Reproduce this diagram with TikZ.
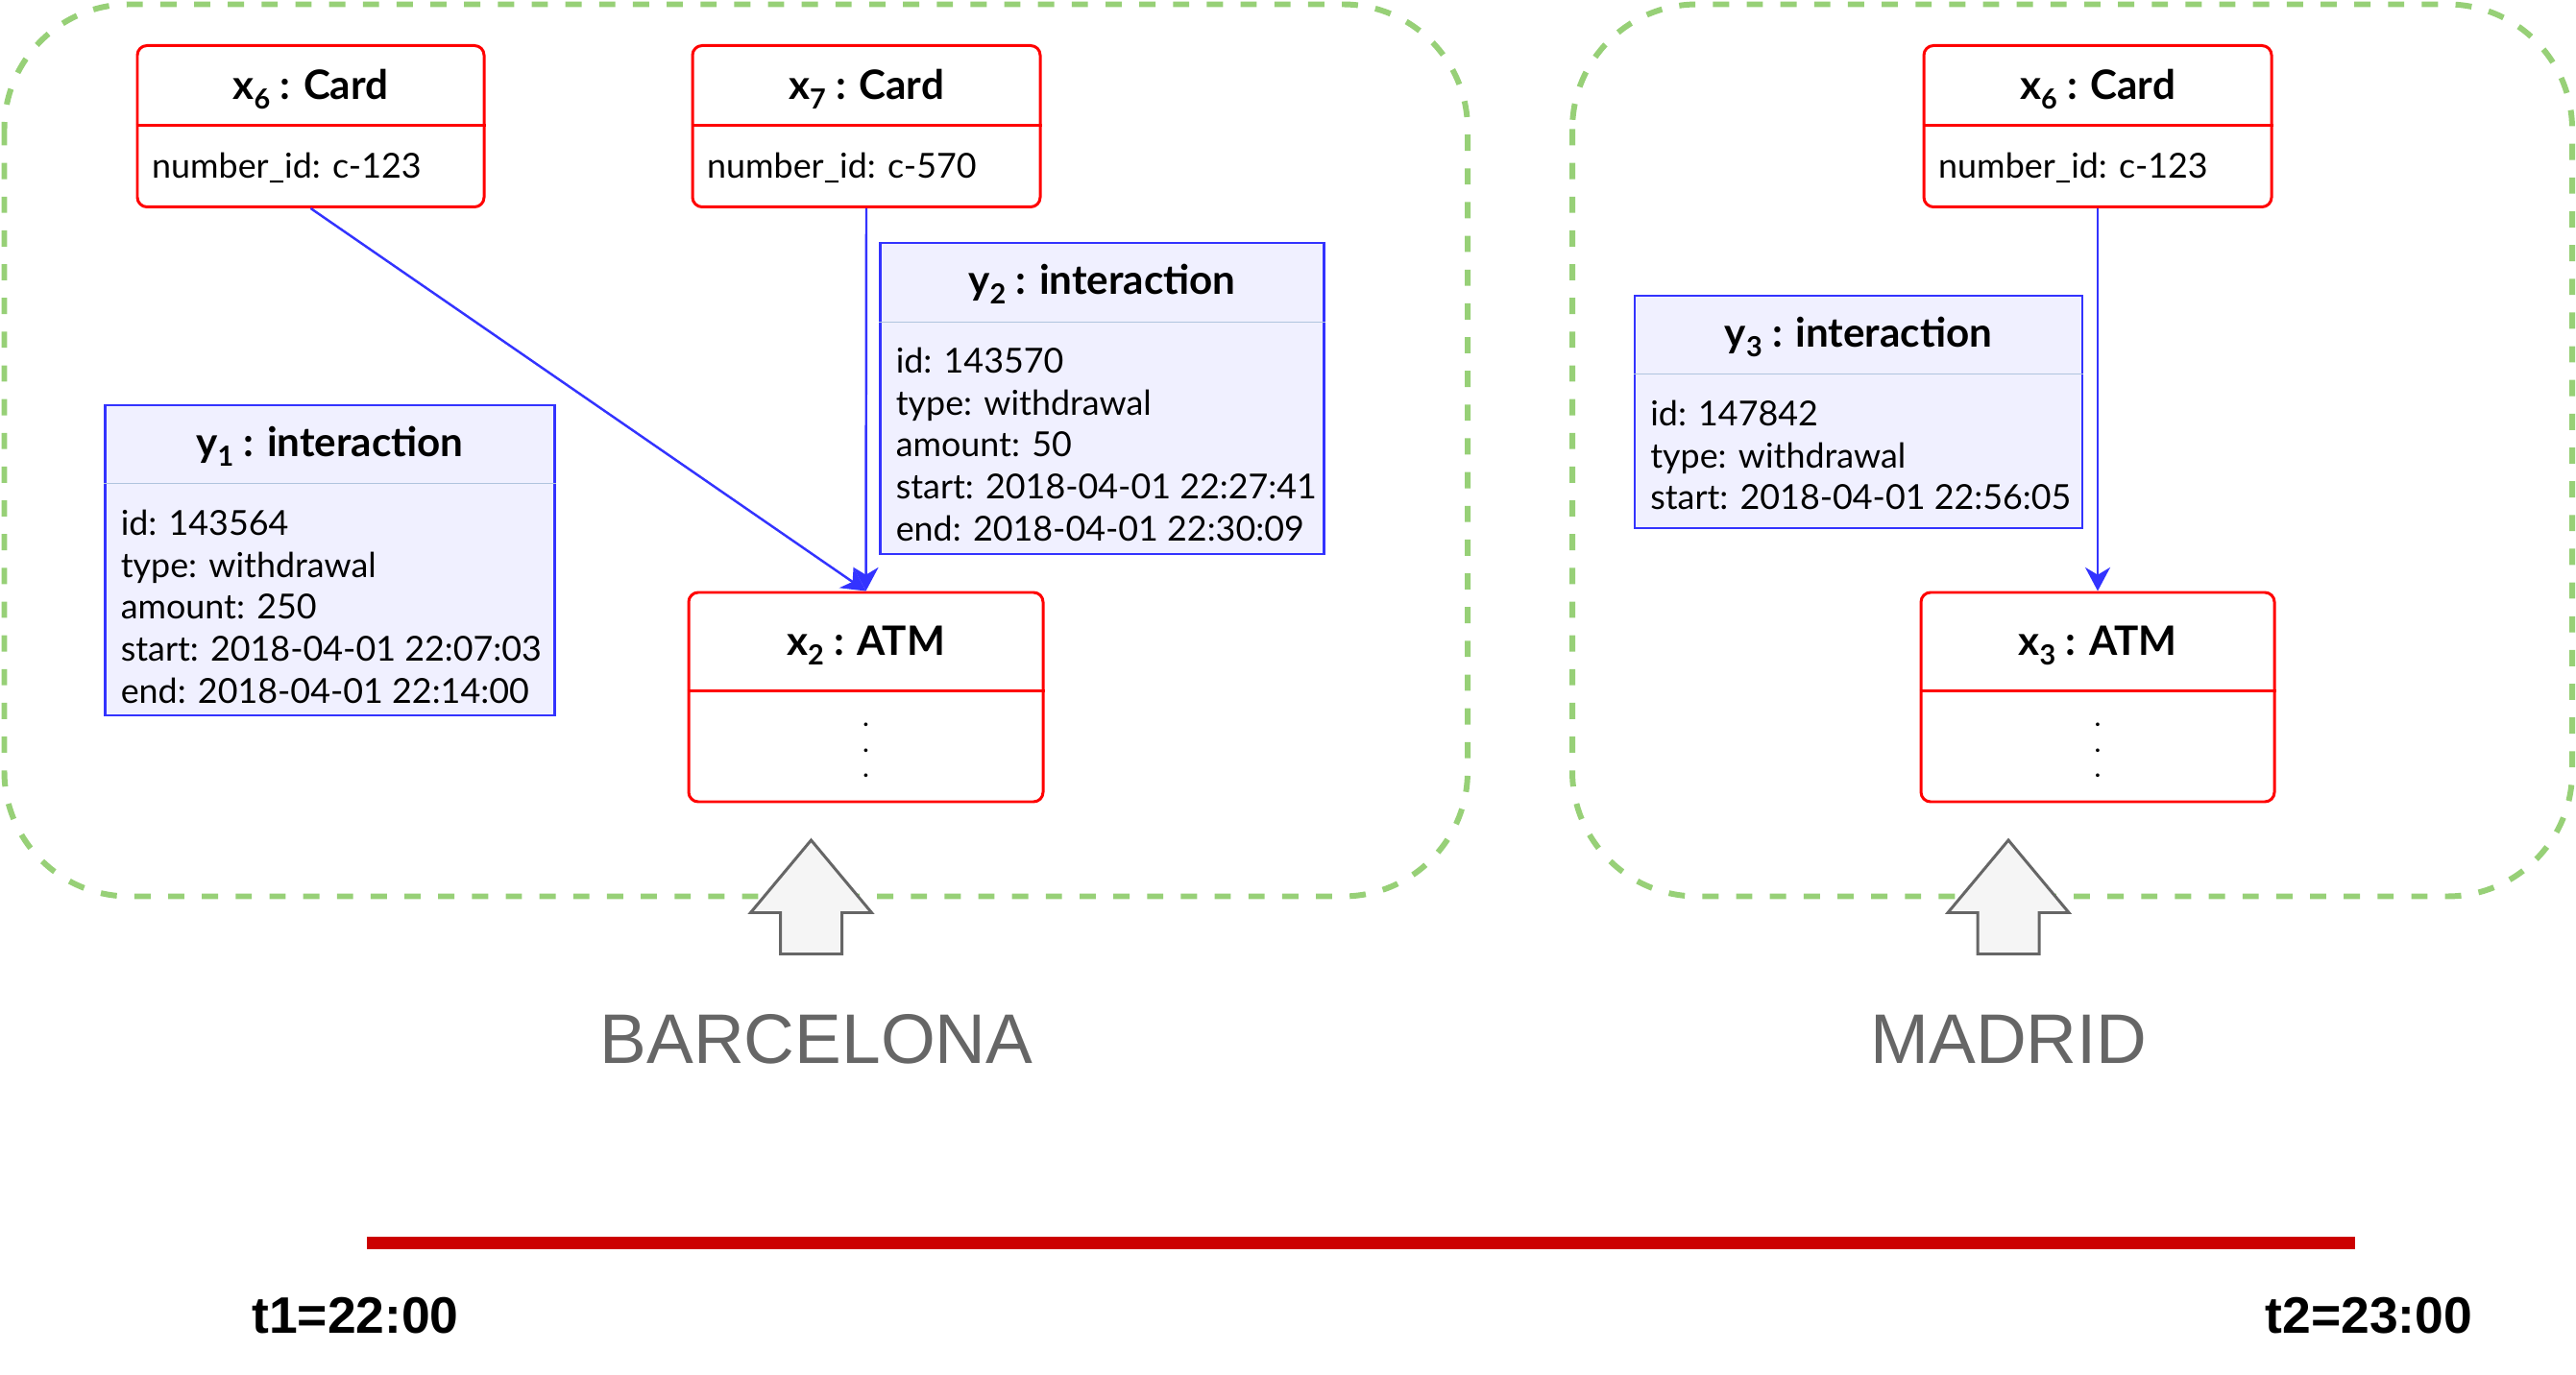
\documentclass[tikz,border=0pt]{standalone}
\usepackage{fontspec}
\setmainfont{Lato}
\newfontfamily\cityfont{Liberation Sans}
\usetikzlibrary{arrows.meta,calc}
\definecolor{cardred}{RGB}{255,0,0}
\definecolor{linkblue}{RGB}{51,51,255}
\definecolor{interfill}{RGB}{240,240,255}
\definecolor{intersep}{RGB}{176,196,222}
\definecolor{zonegreen}{RGB}{151,208,119}
\definecolor{arrowgray}{RGB}{102,102,102}
\definecolor{arrowfill}{RGB}{245,245,245}
\definecolor{timered}{RGB}{204,0,0}
\newcommand{\objsub}[1]{\raisebox{-3pt}{\fontsize{8.2}{9}\selectfont #1}}

\begin{document}
\begin{tikzpicture}[
    zone/.style={draw=zonegreen, line width=1.7pt, dash pattern=on 4.8pt off 5.2pt, rounded corners=1.3cm},
    redbox/.style={draw=cardred, line width=0.85pt, rounded corners=0.1cm, fill=white, inner sep=0pt},
    interbox/.style={draw=linkblue, line width=0.8pt, fill=interfill, inner sep=0pt},
    redsep/.style={draw=cardred, line width=0.85pt},
    bluesep/.style={draw=intersep, line width=0.35pt},
    title/.style={font=\fontsize{12}{14}\selectfont\bfseries, anchor=base, inner sep=0pt},
    attrs/.style={font=\fontsize{10.2}{12.4}\selectfont, align=left, anchor=north west, inner sep=0pt},
    dots/.style={font=\fontsize{7}{7.5}\selectfont\bfseries, align=center, anchor=north, inner sep=0pt},
    link/.style={draw=linkblue, line width=0.7pt, -{Stealth[length=7pt,width=7.4pt,inset=2.2pt]}},
    city/.style={font=\cityfont\fontsize{20.8}{25}\selectfont, text=arrowgray, anchor=base, inner sep=0pt},
    timelabel/.style={font=\cityfont\fontsize{15.2}{18}\selectfont\bfseries, anchor=base, inner sep=0pt},
    bigarrow/.style={draw=arrowgray, fill=arrowfill, line width=0.85pt}
]
    \useasboundingbox (0,0) rectangle (26.82,14.31);

    % Barcelona and Madrid zones
    \draw[zone] (0.045,14.265) rectangle (15.28,4.975);
    \draw[zone] (16.37,14.265) rectangle (26.78,4.975);

    \foreach \cx in {8.445,20.91} {
        \draw[bigarrow] (\cx,5.56) -- ++(0.63,-0.755) -- ++(-0.31,0) -- ++(0,-0.43)
            -- ++(-0.64,0) -- ++(0,0.43) -- ++(-0.31,0) -- cycle;
    }
    \node[city] (barcelona) at (8.50,3.24) {BARCELONA};
    \node[city] (madrid) at (20.915,3.24) {MADRID};

    % Cards
    \node[redbox, minimum width=3.61cm, minimum height=1.68cm] (card6) at (3.235,12.995) {};
    \draw[redsep] ([yshift=-0.845cm]card6.north west) -- ([yshift=-0.845cm]card6.north east);
    \node[title] (card6title) at ([yshift=-0.57cm]card6.north) {x\objsub{6} : Card};
    \node[attrs] (card6attr) at ([shift={(0.16,-1.125)}]card6.north west) {number\_id: c-123};

    \node[redbox, minimum width=3.62cm, minimum height=1.68cm] (card7) at (9.02,12.995) {};
    \draw[redsep] ([yshift=-0.845cm]card7.north west) -- ([yshift=-0.845cm]card7.north east);
    \node[title] (card7title) at ([yshift=-0.57cm]card7.north) {x\objsub{7} : Card};
    \node[attrs] (card7attr) at ([shift={(0.16,-1.125)}]card7.north west) {number\_id: c-570};

    \node[redbox, minimum width=3.62cm, minimum height=1.68cm] (card6m) at (21.84,12.995) {};
    \draw[redsep] ([yshift=-0.845cm]card6m.north west) -- ([yshift=-0.845cm]card6m.north east);
    \node[title] (card6mtitle) at ([yshift=-0.57cm]card6m.north) {x\objsub{6} : Card};
    \node[attrs] (card6mattr) at ([shift={(0.16,-1.125)}]card6m.north west) {number\_id: c-123};

    % ATMs
    \node[redbox, minimum width=3.69cm, minimum height=2.18cm] (atm2) at (9.015,7.05) {};
    \draw[redsep] ([yshift=-1.04cm]atm2.north west) -- ([yshift=-1.04cm]atm2.north east);
    \node[title] (atm2title) at ([yshift=-0.665cm]atm2.north) {x\objsub{2} : ATM};
    \node[dots] (atm2dots) at ([yshift=-1.37cm]atm2.north) {.\\.\\.};

    \node[redbox, minimum width=3.68cm, minimum height=2.18cm] (atm3) at (21.84,7.05) {};
    \draw[redsep] ([yshift=-1.04cm]atm3.north west) -- ([yshift=-1.04cm]atm3.north east);
    \node[title] (atm3title) at ([yshift=-0.665cm]atm3.north) {x\objsub{3} : ATM};
    \node[dots] (atm3dots) at ([yshift=-1.37cm]atm3.north) {.\\.\\.};

    % Interactions
    \node[interbox, minimum width=4.68cm, minimum height=3.23cm] (inter1) at (3.435,8.475) {};
    \draw[bluesep] ([yshift=-0.83cm]inter1.north west) -- ([yshift=-0.83cm]inter1.north east);
    \node[title] (inter1title) at ([yshift=-0.545cm]inter1.north) {y\objsub{1} : interaction};
    \node[attrs] (inter1attr) at ([shift={(0.17,-1.10)}]inter1.north west)
        {id: 143564\\type: withdrawal\\amount: 250\\start: 2018-04-01 22:07:03\\end: 2018-04-01 22:14:00};

    \node[interbox, minimum width=4.62cm, minimum height=3.24cm] (inter2) at (11.475,10.16) {};
    \draw[bluesep] ([yshift=-0.84cm]inter2.north west) -- ([yshift=-0.84cm]inter2.north east);
    \node[title] (inter2title) at ([yshift=-0.545cm]inter2.north) {y\objsub{2} : interaction};
    \node[attrs] (inter2attr) at ([shift={(0.17,-1.10)}]inter2.north west)
        {id: 143570\\type: withdrawal\\amount: 50\\start: 2018-04-01 22:27:41\\end: 2018-04-01 22:30:09};

    \node[interbox, minimum width=4.66cm, minimum height=2.42cm] (inter3) at (19.35,10.02) {};
    \draw[bluesep] ([yshift=-0.83cm]inter3.north west) -- ([yshift=-0.83cm]inter3.north east);
    \node[title] (inter3title) at ([yshift=-0.545cm]inter3.north) {y\objsub{3} : interaction};
    \node[attrs] (inter3attr) at ([shift={(0.17,-1.10)}]inter3.north west)
        {id: 147842\\type: withdrawal\\start: 2018-04-01 22:56:05};

    % Links
    \draw[link] (card6.south) -- (atm2.north);
    \draw[link] (card7.south) -- (atm2.north);
    \draw[link] (card6m.south) -- (atm3.north);

    % Time line
    \coordinate (tstart) at (3.82,1.365);
    \coordinate (tend) at (24.52,1.365);
    \draw[timered, line width=3.6pt] (tstart) -- (tend);
    \node[timelabel] (t1) at (3.70,0.43) {t1=22:00};
    \node[timelabel] (t2) at (24.665,0.43) {t2=23:00};
\end{tikzpicture}
\end{document}
